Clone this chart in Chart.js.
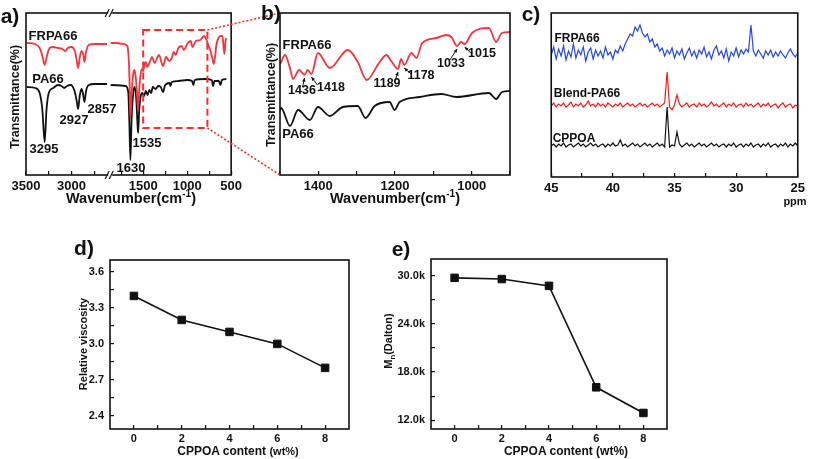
<!DOCTYPE html>
<html>
<head>
<meta charset="utf-8">
<script src="https://cdn.jsdelivr.net/npm/chart.js@4.4.0/dist/chart.umd.min.js"></script>
<style>
  body { margin: 0; background: #fff; }
  #wrap { position: relative; width: 813px; height: 459px; overflow: hidden;
          font-family: "Liberation Sans", Arial, sans-serif; font-weight: bold; color: #111; }
  canvas { position: absolute; }
  .t { position: absolute; white-space: nowrap; line-height: 1; transform: translate(-50%, -50%); }
  .rot { transform: translate(-50%, -50%) rotate(-90deg); }
  sup, sub { font-size: 70%; line-height: 0; }
  svg { position: absolute; left: 0; top: 0; pointer-events: none; }
</style>
</head>
<body>
<div id="wrap">
  <canvas id="ca" width="250" height="200" style="left:0;top:0"></canvas>
  <canvas id="cb" width="250" height="200" style="left:268px;top:0"></canvas>
  <canvas id="cc" width="277" height="200" style="left:536px;top:0"></canvas>
  <canvas id="cd" width="300" height="219" style="left:60px;top:240px"></canvas>
  <canvas id="ce" width="300" height="219" style="left:380px;top:240px"></canvas>
  <svg width="813" height="459"><line id="l1"/><line id="l2"/></svg>

  <div class="t" style="left:10px;top:15px;font-size:21px">a)</div>
  <div class="t" style="left:271px;top:12px;font-size:21px">b)</div>
  <div class="t" style="left:531px;top:13px;font-size:21px">c)</div>
  <div class="t" style="left:84px;top:247px;font-size:21px">d)</div>
  <div class="t" style="left:401px;top:248px;font-size:21px">e)</div>

  <div class="t rot" style="left:15px;top:97px;font-size:12.5px">Transmittance(%)</div>
  <div class="t" style="left:131px;top:198px;font-size:14.5px">Wavenumber(cm<sup>-1</sup>)</div>
  <div class="t" style="left:53px;top:35px;font-size:13px">FRPA66</div>
  <div class="t" style="left:48px;top:78px;font-size:13px">PA66</div>
  <div class="t" style="left:44px;top:148px;font-size:13px">3295</div>
  <div class="t" style="left:74px;top:119px;font-size:13px">2927</div>
  <div class="t" style="left:102px;top:108px;font-size:13px">2857</div>
  <div class="t" style="left:131px;top:167px;font-size:13px">1630</div>
  <div class="t" style="left:147px;top:142px;font-size:13px">1535</div>

  <div class="t rot" style="left:271px;top:95px;font-size:12.5px">Transmittance(%)</div>
  <div class="t" style="left:395px;top:198px;font-size:14.5px">Wavenumber(cm<sup>-1</sup>)</div>
  <div class="t" style="left:307px;top:44px;font-size:13px">FRPA66</div>
  <div class="t" style="left:298px;top:133px;font-size:13px">PA66</div>
  <div class="t" style="left:302px;top:90px;font-size:12.5px">1436</div>
  <div class="t" style="left:331px;top:87px;font-size:12.5px">1418</div>
  <div class="t" style="left:387px;top:83px;font-size:12.5px">1189</div>
  <div class="t" style="left:421px;top:75px;font-size:12.5px">1178</div>
  <div class="t" style="left:451px;top:63px;font-size:12.5px">1033</div>
  <div class="t" style="left:482px;top:53px;font-size:12.5px">1015</div>

  <div class="t" style="left:577px;top:38px;font-size:12px">FRPA66</div>
  <div class="t" style="left:587px;top:93px;font-size:12px">Blend-PA66</div>
  <div class="t" style="left:574px;top:138px;font-size:12px">CPPOA</div>
  <div class="t" style="left:795px;top:201px;font-size:11px">ppm</div>

  <div class="t rot" style="left:83px;top:344px;font-size:11px">Relative viscosity</div>
  <div class="t" style="left:238px;top:451px;font-size:12px">CPPOA content <span style="font-size:11px">(wt%)</span></div>
  <div class="t rot" style="left:388px;top:341px;font-size:11px">M<sub>n</sub>(Dalton)</div>
  <div class="t" style="left:566px;top:451px;font-size:12px">CPPOA content (wt%)</div>
</div>

<script>
// ---- a) FTIR, broken wavenumber axis: [wavenumber, transmittance a.u.]
const A_FRPA66_LEFT = [
  [3490,132],[3400,131],[3350,127],[3320,119],[3295,110],[3270,119],[3240,127],[3200,128],
  [3150,127],[3100,126],[3070,124],[3040,127],[3000,128],[2960,123],[2940,113],[2927,107],
  [2910,117],[2890,124],[2870,120],[2857,113],[2840,123],[2810,130],[2750,131],[2650,131],[2610,131]
];
const A_PA66_LEFT = [
  [3490,88],[3400,87],[3350,82],[3320,65],[3295,33],[3275,65],[3250,82],[3200,87],
  [3150,90],[3110,89],[3080,87],[3050,89],[3010,90],[2970,85],[2945,75],[2927,66],
  [2910,79],[2890,86],[2875,82],[2857,73],[2840,84],[2810,90],[2750,91],[2650,91],[2610,91]
];
const A_FRPA66_RIGHT = [
  [1870,132],[1800,132],[1720,131],[1680,129],[1662,112],[1652,85],[1645,57],[1632,80],
  [1615,100],[1600,105],[1585,98],[1570,82],[1558,65],[1545,85],[1530,100],[1515,106],
  [1500,104],[1485,111],[1470,113],[1455,108],[1440,110],[1420,114],[1400,118],[1370,112],
  [1320,120],[1275,109],[1240,118],[1205,114],[1180,116],[1150,123],[1130,120],[1100,127],
  [1060,129],[1040,125],[1020,127],[1000,131],[960,134],[940,128],[900,134],[850,135],
  [808,139],[780,135],[760,130],[731,123],[715,117],[698,111],[680,120],[670,129],
  [643,137],[620,139],[599,139],[588,130],[577,121],[565,133],[555,137]
];
const A_PA66_RIGHT = [
  [1870,90],[1700,89],[1670,83],[1658,55],[1645,15],[1632,55],[1612,83],[1595,88],
  [1578,75],[1567,55],[1558,42],[1545,65],[1530,78],[1510,82],[1490,79],[1470,84],
  [1450,80],[1430,85],[1410,82],[1390,88],[1360,86],[1330,89],[1300,88],[1275,83],
  [1250,90],[1200,92],[1190,89],[1175,93],[1100,94],[1000,95],[945,94],[930,90],
  [915,95],[800,96],[720,95],[705,89],[690,94],[640,94],[622,90],[605,95],[555,96]
];
const A_LEFT_TICKS = [3500, 3250, 3000, 2750];
const A_LEFT_LABELS = [3500, 3000];
const A_RIGHT_TICKS = [1750, 1500, 1250, 1000, 750, 500];
const A_RIGHT_LABELS = [1500, 1000, 500];
const A_BOX_WN = [1500, 770];
const A_BOX_T = [145, 47];

// ---- b) FTIR detail
const B_FRPA66 = [
  [1500,111],[1497,113],[1487,120],[1474,107],[1466,96],[1450,105],[1436,100],[1428,105],
  [1418,101],[1401,122],[1370,107],[1323,125],[1297,113],[1274,95],[1240,113],[1222,120],
  [1210,114],[1192,106],[1184,116],[1176,110],[1157,122],[1144,117],[1129,132],[1092,137],
  [1066,140],[1053,138],[1038,129],[1028,133],[1018,131],[999,142],[955,147],[936,133],
  [921,142],[900,143]
];
const B_PA66 = [
  [1500,65],[1497,67],[1474,49],[1453,65],[1422,55],[1401,68],[1370,59],[1336,68],
  [1297,69],[1277,57],[1253,69],[1214,73],[1201,65],[1188,73],[1136,78],[1079,81],
  [1040,78],[955,82],[936,76],[921,83],[900,84]
];
const B_TICKS = [1500, 1400, 1300, 1200, 1100, 1000, 900];
const B_LABELS = [1400, 1200, 1000];
const B_PEAKS = [1436, 1418, 1192, 1176, 1038, 1018];
const B_ARROW_TAIL = [[-2, 9], [6, 8], [-3, 9], [7, 6], [-8, 12], [7, 7]];

// ---- c) 31P NMR
const NMR_PPM = [
  45.0,44.8,44.6,44.4,44.2,44.0,43.8,43.6,43.4,43.2,
  43.0,42.8,42.6,42.4,42.2,42.0,41.8,41.6,41.4,41.2,
  41.0,40.8,40.6,40.4,40.2,40.0,39.8,39.6,39.4,39.2,
  39.0,38.8,38.6,38.4,38.2,38.0,37.8,37.6,37.4,37.2,
  37.0,36.8,36.6,36.4,36.2,36.0,35.8,35.6,35.4,35.2,
  35.0,34.8,34.6,34.4,34.2,34.0,33.8,33.6,33.4,33.2,
  33.0,32.8,32.6,32.4,32.2,32.0,31.8,31.6,31.4,31.2,
  31.0,30.8,30.6,30.4,30.2,30.0,29.8,29.6,29.4,29.2,
  29.0,28.8,28.6,28.4,28.2,28.0,27.8,27.6,27.4,27.2,
  27.0,26.8,26.6,26.4,26.2,26.0,25.8,25.6,25.4,25.2,
  25.0
];
const NMR_FRPA66 = [
  122,130,118,128,121,131,117,126,120,133,
  119,127,122,130,116,125,129,118,127,121,
  126,119,130,122,125,118,127,124,131,126,
  133,138,143,141,150,146,152,144,140,143,
  135,138,130,133,126,129,121,127,123,129,
  119,126,122,128,118,124,129,121,126,119,
  127,123,130,120,125,118,127,131,122,126,
  119,128,116,125,121,129,120,127,123,128,
  125,152,126,121,127,123,119,126,122,127,
  120,125,121,126,122,119,124,128,123,120,
  124
];
const NMR_BLEND = [
  71,74,70,73,71,74,70,72,75,70,
  73,71,74,70,72,76,71,73,70,74,
  71,73,70,74,72,70,73,71,74,70,
  72,74,71,73,70,72,74,71,73,70,
  72,74,71,73,70,72,74,105,70,67,
  72,82,73,70,72,74,70,72,73,70,
  74,71,73,70,72,75,71,73,70,72,
  74,70,73,71,74,70,72,73,70,74,
  71,73,70,72,74,70,73,71,74,70,
  72,73,69,72,74,70,72,73,69,72,
  71
];
const NMR_CPPOA = [
  31,33,30,33,31,34,30,32,33,30,
  32,34,31,33,30,32,34,31,33,30,
  32,33,30,33,31,34,31,32,37,31,
  33,30,32,34,31,33,30,32,34,31,
  33,30,32,34,31,33,30,70,30,32,
  31,45,33,30,32,34,31,33,30,32,
  34,31,33,30,32,34,31,33,30,32,
  33,30,33,31,34,30,32,33,30,33,
  31,34,30,32,33,30,33,31,34,30,
  32,33,30,33,31,34,30,33,31,34,
  31
];
const C_TICKS = [45, 42.5, 40, 37.5, 35, 32.5, 30, 27.5, 25];
const C_LABELS = [45, 40, 35, 30, 25];

// ---- d) / e) vs CPPOA content
const CPPOA_CONTENT = [0, 2, 4, 6, 8];
const REL_VISCOSITY = [3.4, 3.2, 3.1, 3.0, 2.8];
const MN_DALTON = [29750, 29600, 28750, 16100, 12900];
const CONTENT_TICKS = [0, 1, 2, 3, 4, 5, 6, 7, 8];
const CONTENT_LABELS = [0, 2, 4, 6, 8];
const D_Y_TICKS = [2.4, 2.55, 2.7, 2.85, 3.0, 3.15, 3.3, 3.45, 3.6];
const D_Y_LABELS = [2.4, 2.7, 3.0, 3.3, 3.6];
const E_Y_TICKS = [12000, 15000, 18000, 21000, 24000, 27000, 30000];
const E_Y_LABELS = [12000, 18000, 24000, 30000];

const INK = "#111";
const IR_RED = "#f7343e";
const BOX_RED = "#ff2a2a";

Chart.defaults.font.family = '"Liberation Sans", Arial, sans-serif';
Chart.defaults.font.weight = "bold";
Chart.defaults.color = INK;

const pts = (arr) => arr.map((p) => ({ x: p[0], y: p[1] }));
const zip = (xs, ys) => xs.map((x, i) => ({ x, y: ys[i] }));

const frame = {
  id: "frame",
  afterDraw(c) {
    const { ctx, chartArea: a } = c;
    ctx.save();
    ctx.strokeStyle = INK;
    ctx.lineWidth = 1.6;
    ctx.strokeRect(a.left, a.top, a.right - a.left, a.bottom - a.top);
    ctx.restore();
  },
};

function axis(o) {
  const left = o.pos === "left";
  return {
    type: "linear",
    position: o.pos || "bottom",
    min: o.min,
    max: o.max,
    reverse: !!o.reverse,
    stack: o.stack,
    stackWeight: o.weight,
    afterBuildTicks: (s) => { s.ticks = o.ticks.map((v) => ({ value: v })); },
    afterFit: (s) => { if (left) s.width = o.size; else s.height = o.size; },
    ticks: {
      autoSkip: false,
      maxRotation: 0,
      padding: o.pad,
      color: INK,
      font: { size: o.fs, weight: "bold" },
      callback: (v) => (o.labels.includes(v) ? (o.fmt ? o.fmt(v) : String(v)) : ""),
    },
    grid: { drawOnChartArea: false, tickLength: -4, color: INK, lineWidth: 1.2 },
    border: { display: false },
  };
}

function baseOptions(padding, scales) {
  return {
    responsive: false,
    animation: false,
    events: [],
    devicePixelRatio: 1,
    layout: { padding },
    plugins: { legend: { display: false }, tooltip: { enabled: false } },
    elements: { point: { radius: 0 } },
    scales,
  };
}

function irLine(data, color, xAxisID) {
  return { data, xAxisID, borderColor: color, borderWidth: 1.8, cubicInterpolationMode: "monotone", pointRadius: 0 };
}

// ---------- a)
const aExtras = {
  id: "aExtras",
  afterDraw(c) {
    const { ctx, chartArea: area } = c;
    const xs = c.scales.x2, ys = c.scales.y;
    ctx.save();
    ctx.strokeStyle = BOX_RED;
    ctx.lineWidth = 2;
    ctx.setLineDash([7, 4]);
    const l = xs.getPixelForValue(A_BOX_WN[0]), r = xs.getPixelForValue(A_BOX_WN[1]);
    const t = ys.getPixelForValue(A_BOX_T[0]), b = ys.getPixelForValue(A_BOX_T[1]);
    ctx.strokeRect(l, t, r - l, b - t);
    ctx.setLineDash([]);
    const bx = c.scales.x1.right;
    [area.top, area.bottom].forEach((y) => {
      ctx.fillStyle = "#fff";
      ctx.fillRect(bx - 2, y - 3, 4, 6);
      ctx.strokeStyle = INK;
      ctx.lineWidth = 1.2;
      ctx.beginPath();
      ctx.moveTo(bx - 5, y + 4); ctx.lineTo(bx - 1, y - 4);
      ctx.moveTo(bx - 1, y + 4); ctx.lineTo(bx + 3, y - 4);
      ctx.stroke();
    });
    ctx.restore();
  },
};

const chartA = new Chart(document.getElementById("ca"), {
  type: "line",
  data: {
    datasets: [
      irLine(pts(A_FRPA66_LEFT), IR_RED, "x1"),
      irLine(pts(A_FRPA66_RIGHT), IR_RED, "x2"),
      irLine(pts(A_PA66_LEFT), INK, "x1"),
      irLine(pts(A_PA66_RIGHT), INK, "x2"),
    ],
  },
  options: baseOptions({ left: 26, top: 13, right: 12, bottom: 0 }, {
    x1: axis({ min: 2575, max: 3500, reverse: true, ticks: A_LEFT_TICKS, labels: A_LEFT_LABELS,
               stack: "wn", weight: 87, size: 25, pad: 8, fs: 13 }),
    x2: axis({ min: 500, max: 1875, reverse: true, ticks: A_RIGHT_TICKS, labels: A_RIGHT_LABELS,
               stack: "wn", weight: 125, size: 25, pad: 8, fs: 13 }),
    y: { display: false, min: 0, max: 162 },
  }),
  plugins: [frame, aExtras],
});

// ---------- b)
const bArrows = {
  id: "bArrows",
  afterDraw(c) {
    const { ctx } = c;
    const xs = c.scales.x, ys = c.scales.y;
    ctx.save();
    ctx.strokeStyle = INK;
    ctx.fillStyle = INK;
    ctx.lineWidth = 1;
    B_PEAKS.forEach((wn, i) => {
      const p = B_FRPA66.find((q) => q[0] === wn);
      const tx = xs.getPixelForValue(wn), ty = ys.getPixelForValue(p[1]) + 3;
      const sx = tx + B_ARROW_TAIL[i][0], sy = ty + B_ARROW_TAIL[i][1];
      const ang = Math.atan2(ty - sy, tx - sx);
      ctx.beginPath(); ctx.moveTo(sx, sy); ctx.lineTo(tx, ty); ctx.stroke();
      ctx.beginPath();
      ctx.moveTo(tx, ty);
      ctx.lineTo(tx - 4 * Math.cos(ang - 0.45), ty - 4 * Math.sin(ang - 0.45));
      ctx.lineTo(tx - 4 * Math.cos(ang + 0.45), ty - 4 * Math.sin(ang + 0.45));
      ctx.closePath(); ctx.fill();
    });
    ctx.restore();
  },
};

const chartB = new Chart(document.getElementById("cb"), {
  type: "line",
  data: { datasets: [irLine(pts(B_FRPA66), IR_RED, "x"), irLine(pts(B_PA66), INK, "x")] },
  options: baseOptions({ left: 12, top: 13, right: 7, bottom: 0 }, {
    x: axis({ min: 900, max: 1500, reverse: true, ticks: B_TICKS, labels: B_LABELS, size: 25, pad: 8, fs: 13 }),
    y: { display: false, min: 0, max: 162 },
  }),
  plugins: [frame, bArrows],
});

// ---------- c)
function nmrLine(values, color) {
  return { data: zip(NMR_PPM, values), borderColor: color, borderWidth: 1.2, tension: 0, pointRadius: 0 };
}
new Chart(document.getElementById("cc"), {
  type: "line",
  data: { datasets: [nmrLine(NMR_FRPA66, "#2243ff"), nmrLine(NMR_BLEND, "#ff1a1a"), nmrLine(NMR_CPPOA, INK)] },
  options: baseOptions({ left: 12, top: 13, right: 9, bottom: 0 }, {
    x: axis({ min: 25, max: 45, reverse: true, ticks: C_TICKS, labels: C_LABELS, size: 23, pad: 8, fs: 13 }),
    y: { display: false, min: 0, max: 164 },
  }),
  plugins: [frame],
});

// ---------- d) and e)
function markerLine(ys) {
  return {
    data: zip(CPPOA_CONTENT, ys), borderColor: INK, borderWidth: 1.6, tension: 0,
    pointStyle: "rect", pointRadius: 5.3, pointBackgroundColor: INK, pointBorderColor: INK, pointBorderWidth: 1,
  };
}
new Chart(document.getElementById("cd"), {
  type: "line",
  data: { datasets: [markerLine(REL_VISCOSITY)] },
  options: baseOptions({ left: 0, top: 20, right: 11, bottom: 0 }, {
    x: axis({ min: -1, max: 9, ticks: CONTENT_TICKS, labels: CONTENT_LABELS, size: 30, pad: 7, fs: 11 }),
    y: axis({ pos: "left", min: 2.29, max: 3.7, ticks: D_Y_TICKS, labels: D_Y_LABELS,
              fmt: (v) => v.toFixed(1), size: 50, pad: 10, fs: 11 }),
  }),
  plugins: [frame],
});
new Chart(document.getElementById("ce"), {
  type: "line",
  data: { datasets: [markerLine(MN_DALTON)] },
  options: baseOptions({ left: 0, top: 19, right: 13, bottom: 0 }, {
    x: axis({ min: -1, max: 9, ticks: CONTENT_TICKS, labels: CONTENT_LABELS, size: 30, pad: 7, fs: 11 }),
    y: axis({ pos: "left", min: 10900, max: 32100, ticks: E_Y_TICKS, labels: E_Y_LABELS,
              fmt: (v) => (v / 1000).toFixed(1) + "k", size: 51, pad: 10, fs: 11 }),
  }),
  plugins: [frame],
});

// dotted guide lines from the zoom box in a) to panel b)
const aLeft = 0, aTop = 0, bLeft = 268, bTop = 0;
const boxR = aLeft + chartA.scales.x2.getPixelForValue(A_BOX_WN[1]);
const boxT = aTop + chartA.scales.y.getPixelForValue(A_BOX_T[0]);
const boxB = aTop + chartA.scales.y.getPixelForValue(A_BOX_T[1]);
const bArea = chartB.chartArea;
[["l1", boxT, bTop + bArea.top], ["l2", boxB, bTop + bArea.bottom]].forEach(([id, y1, y2]) => {
  const ln = document.getElementById(id);
  ln.setAttribute("x1", boxR); ln.setAttribute("y1", y1);
  ln.setAttribute("x2", bLeft + bArea.left); ln.setAttribute("y2", y2);
  ln.setAttribute("stroke", BOX_RED); ln.setAttribute("stroke-width", "1.6");
  ln.setAttribute("stroke-dasharray", "2 2");
});
</script>
</body>
</html>
